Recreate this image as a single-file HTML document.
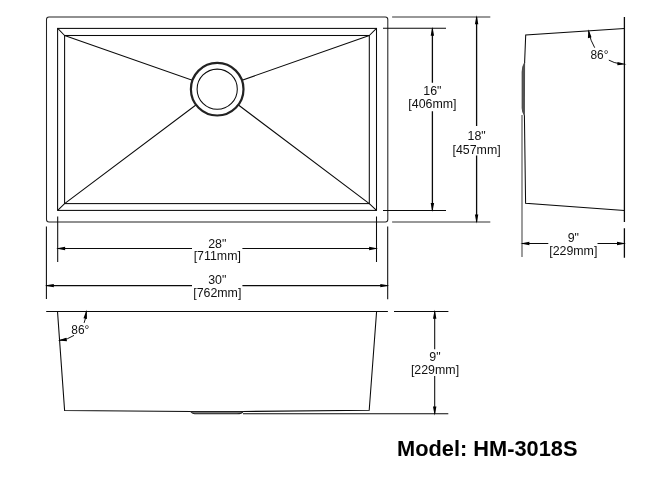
<!DOCTYPE html>
<html>
<head>
<meta charset="utf-8">
<title>HM-3018S</title>
<style>
html,body{margin:0;padding:0;background:#fff;}
body{width:658px;height:480px;overflow:hidden;position:relative;font-family:"Liberation Sans",sans-serif;}
svg{position:absolute;left:0;top:0;display:block;}
.t{font-family:"Liberation Sans",sans-serif;font-size:12.4px;fill:#111;text-anchor:middle;}
text{will-change:transform;}
.a{font-size:11.9px;}
.m{font-family:"Liberation Sans",sans-serif;font-size:21.8px;font-weight:bold;fill:#000;}
</style>
</head>
<body>
<svg width="658" height="480" viewBox="0 0 658 480">
<rect x="0" y="0" width="658" height="480" fill="#fff"/>
<g fill="none" stroke="#0a0a0a" stroke-width="1.05">
<!-- TOP VIEW -->
<rect x="46.5" y="17" width="341.3" height="204.9" rx="2.5" ry="2.5" stroke="#222"/>
<rect x="57.6" y="28.4" width="318.9" height="182.0"/>
<rect x="64.6" y="35.5" width="304.7" height="168.1"/>
<path d="M57.7 28.3L64.6 35.5M376.5 28.3L369.3 35.5M57.7 210.4L64.6 203.6M376.5 210.4L369.3 203.6"/>
<path d="M64.6 35.5L217.2 89.0L369.3 35.5M64.6 203.6L217.2 89.0L369.3 203.6"/>
<circle cx="217.2" cy="89.2" r="26.3" fill="#fff" stroke="#222" stroke-width="2.2"/>
<circle cx="217.2" cy="89.2" r="20.1" fill="#fff"/>
<!-- extension lines right -->
<path d="M392.1 17H490.3M392.1 221.9H490.3" stroke="#333"/>
<path d="M383 28.3H446M383 210.4H446"/>
<!-- 16 dim -->
<path d="M432.4 28.3V82.8M432.4 111.2V210.4" stroke-width="1.3"/>
<!-- 18 dim -->
<path d="M476.6 17V125.9M476.6 155.5V221.9" stroke-width="1.3"/>
<!-- extension lines bottom -->
<path d="M57.7 216.5V262M376.5 216.5V262"/>
<path d="M46.4 226.4V298.9M387.7 226.4V299.2"/>
<!-- 28 dim -->
<path d="M57.7 248.5H192M242.4 248.5H376.5"/>
<!-- 30 dim -->
<path d="M46.4 285.6H192M242.4 285.6H387.7"/>
<!-- SIDE VIEW -->
<path d="M624.4 16.9V222M624.4 228.2V257.7" stroke-width="1.3"/>
<path d="M624.4 28.4L525.7 35.1L524.6 63M524.4 115L525.6 203.3L624.4 210.5"/>
<path d="M522 115V257" stroke="#444"/>
<path d="M524.6 62.5Q522.3 66 522.1 72V108Q522.3 112.5 524.4 115.5Z" fill="#555" stroke="#333" stroke-width="0.8"/>
<path d="M522 243.5H548.3M597.5 243.5H624.4"/>
<!-- FRONT VIEW -->
<path d="M46.2 311.4H387.9M394 311.4H448.4"/>
<path d="M57.5 311.4L64.6 410.4L191 411.5M243 411.5L369.2 410.3L376.6 311.4"/>
<path d="M243 413.8H448.3"/>
<path d="M190.6 411.5Q192 413.8 197 413.8H237Q242 413.8 243 411.5Z" fill="#777" stroke="#222"/>
<path d="M434.7 311.2V349.3M434.7 376V413.8"/>
</g>
<!-- arrows -->
<g fill="#000" stroke="none">
<path d="M432.4 26.7l-1.7 9.0h3.4z"/>
<path d="M432.4 212.0l-1.7 -9.0h3.4z"/>
<path d="M476.6 15.2l-1.7 9.0h3.4z"/>
<path d="M476.6 223.5l-1.7 -9.0h3.4z"/>
<path d="M56.1 248.5l9.0 -1.7v3.4z"/>
<path d="M378.1 248.5l-9.0 -1.7v3.4z"/>
<path d="M44.8 285.6l9.0 -1.7v3.4z"/>
<path d="M389.3 285.6l-9.0 -1.7v3.4z"/>
<path d="M520.4 243.5l9.0 -1.7v3.4z"/>
<path d="M626.0 243.5l-9.0 -1.7v3.4z"/>
<path d="M434.7 309.8l-1.7 9.0h3.4z"/>
<path d="M434.7 415.4l-1.7 -9.0h3.4z"/>
</g>
<!-- angle arcs -->
<g fill="none" stroke="#111" stroke-width="1">
<path d="M588.6 31Q590.5 41 594.7 47.7"/>
<path d="M608.8 60.1Q614 63 620 63.8"/>
<path d="M86.4 312Q86 318 84.1 322.9"/>
<path d="M74 335.4Q68 339.5 60 340.3"/>
</g>
<g fill="#000" stroke="none">
<path d="M588.4 29.2L587.9 38.2L591.5 37.3Z"/>
<path d="M626.6 64.2L617.3 65.3L617.5 61.9Z"/>
<path d="M86.6 309.8L83.5 318.2L87 319Z"/>
<path d="M57.8 340.6L66.3 337.7L67 341.2Z"/>
</g>
<g class="t">
<text x="432.4" y="94.8">16"</text>
<text x="432.4" y="108.1">[406mm]</text>
<text x="476.6" y="140.0">18"</text>
<text x="476.6" y="153.6">[457mm]</text>
<text x="217.3" y="247.5">28"</text>
<text x="217.3" y="260.1">[711mm]</text>
<text x="217.3" y="284.2">30"</text>
<text x="217.3" y="297.1">[762mm]</text>
<text x="573.3" y="241.6">9"</text>
<text x="573.3" y="255.4">[229mm]</text>
<text x="435" y="360.5">9"</text>
<text x="435" y="374.3">[229mm]</text>
<text class="a" x="599.5" y="58.6">86°</text>
<text class="a" x="80.3" y="333.6">86°</text>
</g>
<text class="m" x="397" y="455.7">Model: HM-3018S</text>
</svg>
</body>
</html>
